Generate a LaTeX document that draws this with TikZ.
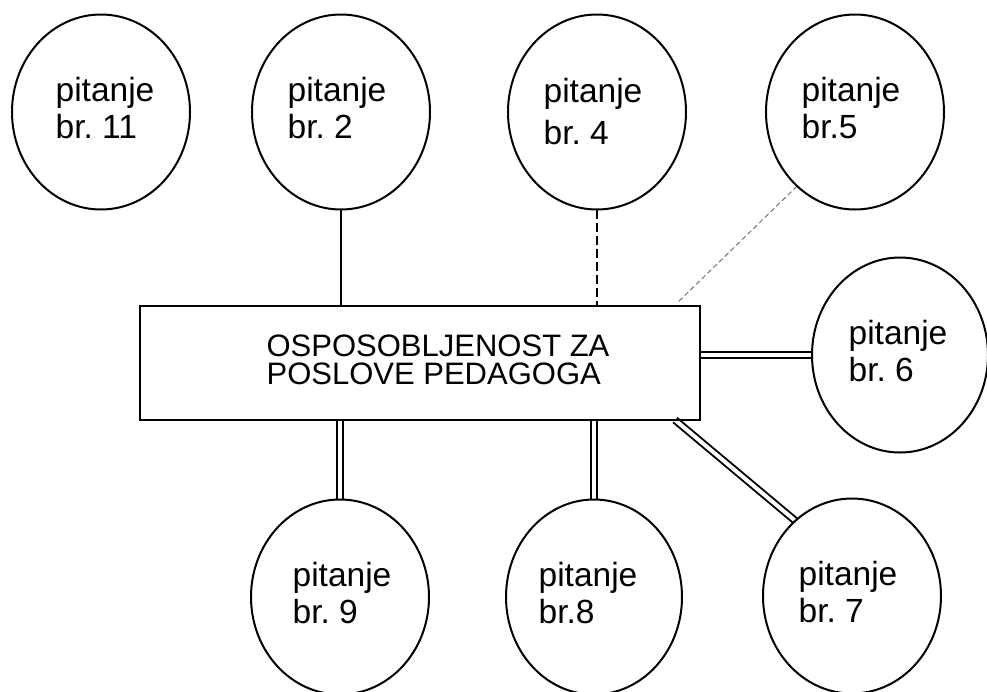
\documentclass[tikz,border=0pt]{standalone}
\usepackage{fontspec}
\setmainfont{Liberation Sans}
\frenchspacing
\usetikzlibrary{shapes.geometric,calc,backgrounds}
\tikzset{
  qcirc/.style={draw, ellipse, line width=2pt, inner sep=0pt, outer sep=0pt,
    minimum width=178pt, minimum height=195pt},
  qtext/.style={align=left, inner sep=0pt,
    font=\fontsize{33.5pt}{37pt}\selectfont, xshift=-4pt, yshift=4pt},
  mainbox/.style={draw, rectangle, line width=2.2pt, inner sep=0pt, outer sep=0pt,
    minimum width=560pt, minimum height=114pt},
  maintext/.style={align=left, inner sep=0pt,
    font=\fontsize{31pt}{28.5pt}\selectfont, xshift=18pt, yshift=3pt},
  thinlink/.style={line width=1.1pt},
  dashlink/.style={line width=1.3pt, dash pattern=on 9pt off 4pt},
  greydash/.style={line width=1pt, draw=black!55, dash pattern=on 5pt off 3pt},
  dbllink/.style={double, line width=1.9pt, double distance=4pt}
}
\begin{document}
\begin{tikzpicture}[x=1pt, y=-1pt]
\useasboundingbox (0,0) rectangle (987,691);
\node[mainbox, label={[maintext]center:{OSPOSOBLJENOST ZA\\POSLOVE PEDAGOGA}}] (box) at (420,363) {};
\node[qcirc, label={[qtext, xshift=8pt]center:{pitanje\\br. 11}}] (c11) at (101,112) {};
\node[qcirc, label={[qtext]center:{pitanje\\br. 2}}] (c2) at (341,112) {};
\node[qcirc, label={[qtext, font=\fontsize{33.5pt}{42pt}\selectfont, yshift=-4pt]center:{pitanje\\br. 4}}] (c4) at (597,112) {};
\node[qcirc, label={[qtext]center:{pitanje\\br.5}}] (c5) at (855,112) {};
\node[qcirc, minimum width=176pt, label={[qtext, xshift=2pt]center:{pitanje\\br. 6}}] (c6) at (900,355) {};
\node[qcirc, label={[qtext, xshift=6pt]center:{pitanje\\br. 9}}] (c9) at (340,597) {};
\node[qcirc, minimum width=176pt, label={[qtext, xshift=-2pt]center:{pitanje\\br.8}}] (c8) at (594,597) {};
\node[qcirc, label={[qtext]center:{pitanje\\br. 7}}] (c7) at (852,596) {};
\coordinate (b5) at (677,303);
\coordinate (b7) at ($(box.south east)+(-25,0)$);
\begin{pgfonlayer}{background}
\draw[thinlink] (c2.south) -- (c2.south |- box.north);
\draw[dashlink] (c4.south) -- (c4.south |- box.north);
\draw[greydash] (c5.232) -- (b5);
\draw[dbllink] (c6.west) -- (c6.west -| box.east);
\draw[dbllink] (c9.north) -- (c9.north |- box.south);
\draw[dbllink] (c8.north) -- (c8.north |- box.south);
\draw[dbllink] (c7.127) -- (b7);
\end{pgfonlayer}
\end{tikzpicture}
\end{document}
